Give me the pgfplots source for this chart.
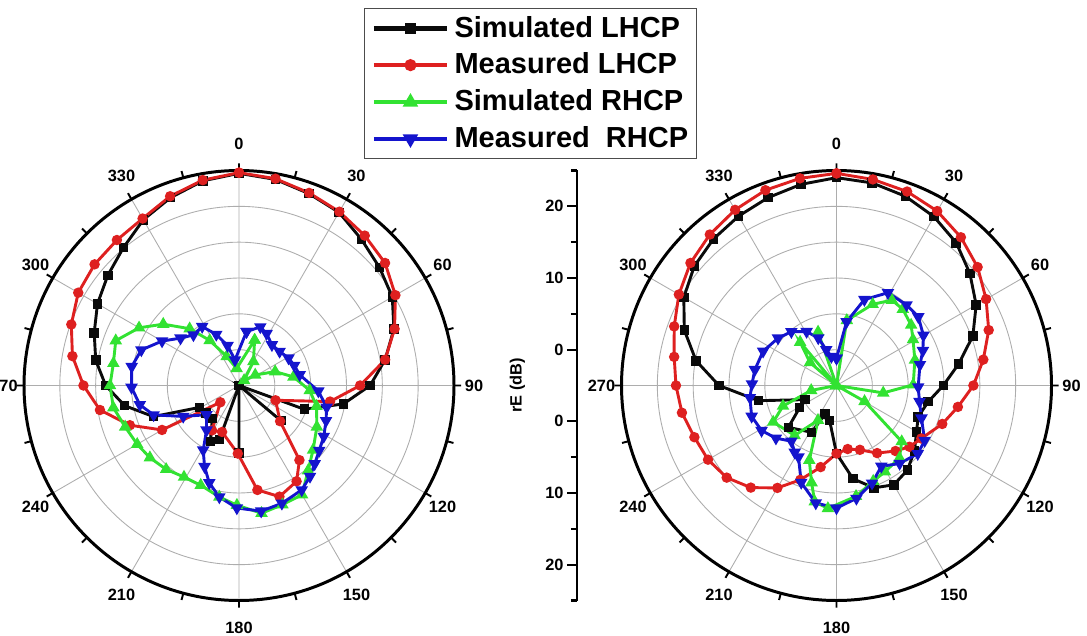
\documentclass[border=0pt]{standalone}
\usepackage{fontspec}
\setmainfont{Liberation Sans}
\usepackage{pgfplots}
\pgfplotsset{compat=1.18}
\usepgfplotslibrary{polar}
\definecolor{cBlack}{RGB}{10,10,10}
\definecolor{cRed}{RGB}{222,32,32}
\definecolor{cGreen}{RGB}{50,226,50}
\definecolor{cBlue}{RGB}{20,20,205}
\pgfplotsset{
  mypolar/.style={
    scale only axis, width=8.6cm, height=8.6cm, anchor=center,
    ymin=0, ymax=30,
    xtick={0,30,...,330},
    xticklabels={90,60,30,0,330,300,270,240,210,180,150,120},
    minor xtick={15,45,...,345},
    ytick={5,10,15,20,25}, yticklabels={},
    ytick style={draw=none},
    y axis line style={draw=none},
    grid=major,
    major grid style={draw=black!32, line width=0.5pt},
    axis line style={line width=1.7pt},
    xtick style={line width=1.1pt, black},
    tick align=inside,
    major tick length=4pt, minor tick length=4pt,
    xticklabel style={font=\fontsize{9.3}{10}\selectfont\bfseries, anchor=center,
      xshift={cos(\tick)*0.40cm}, yshift={sin(\tick)*0.54cm}},
    x filter/.expression={90-x},
    y filter/.expression={y+5},
    clip=false,
  },
  sLHCP/.style={color=cBlack, line width=1.65pt, mark=square*, mark size=1.9pt},
  mLHCP/.style={color=cRed, line width=1.65pt, mark=*, mark size=2.1pt},
  sRHCP/.style={color=cGreen, line width=1.65pt, mark=triangle*, mark size=2.5pt},
  mRHCP/.style={color=cBlue, line width=1.65pt, mark=triangle*, mark size=2.5pt, mark options={rotate=180}},
}
\begin{document}
\begin{tikzpicture}
\clip (0,0) rectangle (21.74cm,12.7cm);
%% ---------------- left polar plot ----------------
\begin{polaraxis}[mypolar, at={(4.78cm,4.99cm)},
  legend style={at={(0.791,1.377)}, anchor=north west, draw=black!70, line width=0.6pt,
    font=\fontsize{16.5}{19}\selectfont\bfseries, row sep=5pt, column sep=2pt,
    inner xsep=4pt, inner ysep=3pt,
    nodes={inner sep=1pt, text height=12pt, text depth=2pt}},
  legend cell align=left,
  legend image code/.code={
    \draw[#1, line width=2.6pt, mark=none] (0cm,0cm) -- (1.46cm,0cm);
    \draw[#1, line width=2.6pt] plot coordinates {(0.73cm,0cm)};
  },
]
\addplot[sLHCP] coordinates {
 (0,24.6) (10,24.2) (20,23.5) (30,22.9) (40,21.6) (50,20.6) (60,19.7) (70,18.0)
 (80,15.7) (90,13.3) (100,9.8) (110,4.7) (120,-5) (130,2.6) (140,-5) (150,-5)
 (160,-5) (170,-5) (180,4.4) (190,-5) (200,3.0) (207,3.8) (219,0.9) (230,1.0)
 (241,1.3) (250,7.7) (260,11.2) (270,13.6) (280,15.3) (290,16.5) (300,17.8)
 (310,18.9) (320,20.1) (330,21.7) (340,22.9) (350,24.0) (360,24.6)};
\addlegendentry{Simulated LHCP}
\addplot[mLHCP] coordinates {
 (0,24.7) (10,24.3) (20,23.6) (30,23.0) (40,22.3) (50,21.6) (60,20.2) (70,18.1)
 (80,15.7) (90,11.9) (100,7.9) (112,0.5) (131,2.6) (141,8.4) (149,10.6)
 (160,11.5) (170,9.8) (181,4.5) (200,1.9) (211,2.3) (228,-1.5) (240,7.4)
 (250,11.2) (260,14.7) (270,16.7) (280,18.6) (290,19.9) (300,20.9) (310,21.3)
 (320,21.5) (330,21.9) (340,23.1) (350,24.1) (360,24.7)};
\addlegendentry{Measured LHCP}
\addplot[sRHCP] coordinates {
 (19,1.7) (31,-1.1) (45,-4.0) (57,-2.3) (69,0.4) (81,2.7) (94,4.9) (105,6.2)
 (118,7.3) (131,8.7) (141,10.3) (150,12.6) (160,12.7) (170,13.1) (181,11.7)
 (190,10.8) (201,9.9) (211,9.9) (221,10.5) (231,11.0) (240,11.4) (250,11.9)
 (260,12.8) (270,13.0) (280,12.8) (290,13.3) (300,11.1) (309,8.6) (319,5.5)
 (327,2.5) (337,-0.6) (352,-2.6) (379,1.7)};
\addlegendentry{Simulated RHCP}
\addplot[mRHCP] coordinates {
 (8,2.6) (20,3.7) (28,3.2) (39,2.3) (50,2.4) (61,2.9) (70,3.2) (80,3.6) (94,6.1)
 (104,7.6) (112,8.1) (121,8.8) (129,9.4) (136,10.2) (142,11.1) (149,12.0)
 (160,12.5) (170,12.8) (181,12.1) (190,10.8) (197,9.2) (203,7.3) (209,5.3)
 (216,2.7) (228,1.1) (241,3.9) (251,7.6) (259,9.1) (269,10.0) (280,10.2)
 (290,9.5) (300,7.4) (309,5.5) (318,4.5) (328,4.7) (336,2.8) (344,0.8)
 (351,-1.4) (368,2.6)};
\addlegendentry{Measured\ \ RHCP}
\end{polaraxis}
%% ---------------- radial scale ----------------
\begin{axis}[at={(11.54cm,4.99cm)}, anchor=west, scale only axis,
  width=1cm, height=8.6cm, xmin=0, xmax=1, ymin=-30, ymax=30,
  axis y line*=left, axis x line=none,
  ytick={-25,-15,-5,5,15,25}, yticklabels={20,10,0,0,10,20},
  minor ytick={-30,-20,-10,10,20,30},
  tick align=outside, major tick length=5.5pt, minor tick length=3.5pt,
  axis line style={line width=1.6pt},
  every tick/.style={line width=1.3pt, black},
  yticklabel style={font=\fontsize{9.3}{10}\selectfont\bfseries, inner sep=2pt},
  ylabel={rE (dB)}, ylabel style={font=\fontsize{9.3}{10}\selectfont\bfseries},
  ylabel shift=6pt,
]
\addplot[draw=none] coordinates {(0,0)};
\end{axis}
%% ---------------- right polar plot ----------------
\begin{polaraxis}[mypolar, at={(16.73cm,4.99cm)}]
\addplot[sLHCP] coordinates {
 (0,24.0) (10,23.7) (20,23.1) (30,22.2) (40,21.0) (50,19.3) (60,17.5) (70,15.25)
 (80,12.3) (90,9.9) (100,8.0) (111,7.2) (120,7.9) (130,9.2) (140,10.4) (150,11.0)
 (160,10.2) (170,8.2) (180,4.5) (191,0.0) (202,-0.7) (208,2.4) (229,3.9)
 (239,1.0) (246,-0.15) (259,6.1) (270,11.4) (280,14.9) (290,17.6) (300,19.6)
 (310,20.9) (320,21.7) (330,22.3) (340,22.9) (350,23.5) (360,24.0)};
\addplot[mLHCP] coordinates {
 (0,24.6) (10,24.2) (20,23.8) (30,23.1) (40,22.0) (50,20.7) (60,19.1) (70,17.6)
 (80,15.8) (90,14.1) (100,12.2) (110,10.7) (122,8.95) (130,8.3) (138,7.3)
 (149,6.0) (160,4.55) (170,4.0) (180,4.5) (191,6.6) (201,9.1) (210,11.5)
 (220,13.6) (230,15.0) (240,15.7) (250,16.1) (260,16.9) (270,17.4) (280,18.0)
 (290,19.1) (300,20.4) (310,21.6) (320,22.5) (330,23.3) (340,24.0) (350,24.35)
 (360,24.6)};
\addplot[sRHCP] coordinates {
 (0,-5) (9,4.2) (24,7.4) (33,9.2) (41,9.1) (51,8.4) (59,7.45) (72,6.5)
 (89.5,5.7) (99,1.6) (110,-5) (119.5,-0.5) (130.7,7.0) (139,8.4) (150.7,8.8)
 (159,9.3) (170,10.7) (184,12.2) (190.6,11.5) (194.4,9.0) (200,6.1) (208,0.5)
 (220,4.1) (240,5.2) (249,3.0) (259,-1.4) (275,-5) (300,-5)
 (311,-0.1) (320,2.9) (331,-5) (341,2.9) (350,-5) (360,-5)};
\addplot[mRHCP] coordinates {
 (0,-1.2) (9,4.0) (18,7.6) (29,9.8) (41,9.9) (50,9.9) (60,9.0) (68,8.0) (76,7.0)
 (91,6.4) (101,6.8) (111,7.7) (122,9.5) (130,9.8) (141,9.0) (151,7.9) (160,9.5)
 (170,11.0) (180,12.1) (190,11.65) (200,9.4) (208,6.3) (212,6.0) (219,5.0) (229,6.2)
 (239,7.2) (250,7.6) (262,7.2) (271,6.8) (281,6.6) (295,6.3) (309,5.5)
 (320,4.8) (331,3.6) (339,2.1) (344,0.2) (350,-0.9) (360,-1.2)};
\end{polaraxis}
\end{tikzpicture}
\end{document}
